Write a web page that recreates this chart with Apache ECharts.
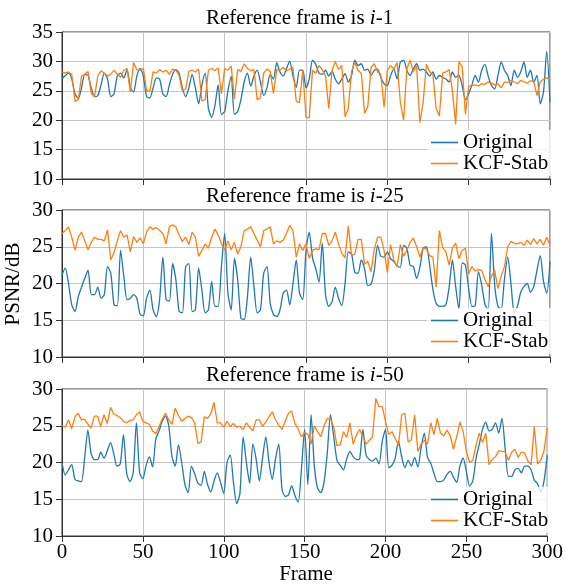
<!DOCTYPE html>
<html><head><meta charset="utf-8">
<script src="https://cdn.jsdelivr.net/npm/echarts@6/dist/echarts.min.js"></script>
<style>html,body{margin:0;padding:0;background:#fff}#c{width:566px;height:586px}</style>
</head><body><div id="c"></div><script>
// x positions: sampled every FRAME_STEP frames, starting at frame 0
const FRAME_STEP = 2;
const seriesNames = ['Original', 'KCF-Stab'];
const panelRefs = ['1', '25', '50'];
const xTickLabels = [0, 50, 100, 150, 200, 250, 300];
const yRanges = [[10, 35], [10, 30], [10, 30]];

// Panel 1: reference frame i-1
const p1Original = [27,27.6,28,27,24.5,23.7,25.5,27.8,27.6,25.5,24,24.2,26,28,27,24,24.5,27.5,28,27.2,28.6,25.5,24.8,27.5,28.8,27.5,24,23.8,25.5,27.2,27,24.5,24,26,27.8,28.6,28,25.5,
24,25.5,27.8,25.5,22.8,26,28,22,20.5,22.5,26,21,21.5,25,27.5,21,21.5,23.5,26.5,28,25.8,27.5,28.5,26.5,24.2,25.5,27.8,27,29.8,28.2,27.5,28.8,30,27.5,25.6,28.5,28.5,
25.5,27,30.2,29.5,28,27.8,28.5,27.5,28.3,27,26.2,27,27.9,26.5,27.6,30.2,29.3,29.6,28.5,28.7,27.6,28.5,28.7,27.3,26.2,25.9,27.6,28.7,27,29.9,30.2,28.5,27.6,28.7,29.6,28.5,28.7,28.2,
27.5,28.2,27,27.6,27.3,27,26.5,28.2,27.3,27.6,25.9,23.5,24.5,26,27.6,26.5,28.5,29.5,27.5,25.9,25.3,27.6,29.9,28.5,27.6,25.9,28.5,27.3,28.2,29.9,27.3,28.5,26.5,27.6,22.8,24.8,31.7,23];
const p1Stab = [28.2,28,28.2,27.8,23.2,23.5,27.5,27.8,28.3,24.5,24,27.5,28.4,28,27.5,27.8,28.5,27.8,27.3,28.5,28.8,24.8,29.8,28.6,28.5,28.8,25,25,28.2,28,28.6,28.2,28.5,27.8,28.7,28.5,27.6,25,
25.3,28.3,28.5,28.2,28.7,23.3,23.5,28.5,28.8,28.4,28.9,24.5,28.8,28.5,29.2,23.6,28.6,28.3,29.6,28.8,28.4,28.6,23.5,23.8,28,28.7,28.3,24.5,28.6,28.5,29,28.4,28.7,29,23.2,23,28.5,
20.5,20.4,28.5,28,29.3,28.6,27.5,22,28.5,30,28.6,29.3,20.6,22,28.3,29.8,28.5,28,21.2,22.3,29,29.6,28.2,27.8,22.2,28.5,29.3,28.7,29.8,23,20,28.8,30.2,28.3,29.2,19.6,23,29.5,
28.3,27.8,22,20.7,28,28.2,28.6,25,19.3,29.9,29.2,21,25.8,25.9,26,25.8,26.2,26.1,26.5,26.3,26,26.2,25.5,26.5,26.4,26.8,26.5,26.2,26.8,26.5,26.3,26.7,26.6,24.2,26.5,27,27.2,26.8];

// Panel 2: reference frame i-25
const p2Original = [21.2,22.1,20,17.1,16.2,18.2,19.5,20.7,21.8,18.5,18.5,19.5,18,18.5,22.3,21.4,17.1,17,24.5,21,17.8,18,18.5,18,15.8,15.6,18,19.1,16.4,15.5,
17.8,23.6,17.8,17.6,22.7,20.5,16.2,16,22.3,22.7,16.2,16.4,22.1,19.1,16,16.4,20.3,16.9,16.9,22.3,26.8,18.7,16.4,23.4,20.5,15.3,15.1,18.2,23.6,19.6,
16,16.4,21.4,22.3,17.3,15.8,15.5,16.4,18.7,19.1,17.1,20,23.2,18.7,17.8,24.5,27,
23.5,22,20.2,25.5,18.5,16.9,17.5,19.5,18,17,20,24.3,24,21.5,21.4,23.2,22,19.7,19.9,21.8,25.2,23.7,23.6,24.3,23.4,23,22.4,22.2,25.2,24.8,
22.5,22.3,20.7,22.2,24.8,25,22.5,19.2,17.3,16.9,16.9,17.1,19.5,23.2,19.6,16.5,22.8,22.5,19.3,16.9,17,21.6,19.8,17.2,16.4,26.8,19.8,16.9,16.5,20.6,
23.6,20,16,16.9,18.8,19.6,20,18.8,19.6,21.8,23.8,20.3,18.7,23];
const p2Stab = [26.8,27.2,27.7,26.3,24.5,26.3,27,25.8,24.6,25.6,26.3,26,26,25.8,27.3,23.2,24.2,25.8,27.2,26.3,26.6,24.3,26.4,25.6,26.2,25.4,27,27.7,27.4,27.6,
27.2,26.8,25.4,27.7,28,27.7,26.6,25.7,26.3,25.3,27,26.3,23.7,24.5,25.4,24.8,26.3,27.4,26.6,25.4,24.6,25.8,24.6,25.6,24,25,27.2,27.4,27.7,26.8,
25.9,25,27.2,27.4,27.7,25.4,25.8,25.6,25.9,26.8,27.9,27.2,23.6,25.4,24.5,25.4,23.4,
24.5,24.7,24.6,26.8,26.8,25.2,25.8,27,25.4,24.1,23.5,27.8,23.8,24,26,26,22.6,23,21.6,24.7,26.3,26.3,24.5,21.5,25.3,23.2,22.3,25.3,23.7,24.5,
25.6,26.2,25,23.6,24.8,24.7,23.8,23.6,19.5,27.2,24.9,24.3,22.5,24.8,25.5,23.4,24.5,24.8,21.3,22.3,21.7,21.9,21.8,20.5,19.6,21,21.8,19.3,21,22.3,
25,25.7,25.5,25.4,25.6,25.2,25.9,25.3,26.1,25.4,26,25.2,26.3,25.2];

// Panel 3: reference frame i-50
const p3Original = [20,18.3,19,19.7,17.7,17.5,17.4,20.6,24.4,21.2,20.4,20.4,21.4,20.6,21.6,22.7,21.2,19.5,19.8,23.8,18.5,17.4,18.6,25.4,18.6,17.8,19.6,20.8,19.4,23.2,
24.3,25.6,26.3,25,20.8,19.5,22.4,20,17,15.9,19.5,18.5,17.2,16.9,18.8,17,16,17.5,18.6,17.3,15.8,20,21,17.3,14.4,15.8,23.5,20,17.2,22.5,
20.5,17.5,20.6,23.5,20,17.7,20.5,22.5,16.4,15.4,15.6,16.8,15.5,14.6,19,24.5,17,
26.5,19.5,16.5,15.9,17.3,21.3,26.5,23.5,20.3,19.6,19,20.5,21.5,20.8,20.4,20.5,24.5,21,20.4,20.2,20.6,19.8,22.9,24.5,19.3,19.6,20.6,22.9,20.8,19.3,
20.3,19.5,20.7,19.4,22,24,20.7,19.9,18.5,17.4,17.4,17.6,18.4,18.8,18,17.3,19.5,20.6,18.8,16.8,17.5,20.6,22.5,24.5,25.5,24.3,24.5,25.4,24,26,
21.8,18.1,18.1,19,19.2,18.6,19.5,19.5,19,17.6,17.1,16,17.5,21];
const p3Stab = [25,24.8,25.8,24.6,26.2,26.7,25.8,25.9,25.2,24.7,26.3,26.3,24.9,26.5,25.3,27.5,26.6,26.4,26.1,25.6,25.4,25.7,25.8,26.5,26.9,25.6,25.4,25.2,24.3,23.9,
24.9,25.9,26.7,25.8,25.2,27.4,26.4,25.6,26,26.3,26.1,25.4,22.6,22.8,26.2,26,26.6,28.2,25.4,25.4,24.8,25.6,24.9,25.3,24.8,24.9,24.5,25.4,24.8,24.3,
25.8,25.8,24.9,25.5,26.2,26.9,25.8,25.1,24.5,25.6,26.7,27,25.3,24.6,23.5,24.1,23.8,
22.5,25,24.2,23.5,25,26,25.9,24.8,22.3,22.4,24.2,23.4,25.4,22.5,23.7,24.5,23.5,22.5,23,23.5,28.7,27.6,27.6,25.6,23.8,24.2,23.3,22.3,26.5,26.7,
22.8,23.1,26.5,21.5,22.5,23,22.5,25.4,23.8,26,24,23.6,24.4,23.7,21.8,23.5,25.5,24.2,21.5,20,20.3,22.4,24,22.7,24,19.7,20.4,20.8,21.6,21.5,
21.4,20.3,21.4,21.8,20.7,21.4,21.3,20.2,19.7,24.9,19.8,20.3,21.6,24.7];

const panels = [[p1Original, p1Stab], [p2Original, p2Stab], [p3Original, p3Stab]];
const colors = ['#1f77b4', '#ff7f0e'];

const FONT = '"Liberation Serif", "Times New Roman", serif';
const gridTops = [32, 210, 389];
const gridH = 147;
const gridLeft = 62, gridW = 488;

const grids = [], xAxes = [], yAxes = [], series = [], titles = [], legends = [];
panels.forEach((pair, i) => {
  grids.push({left: gridLeft, top: gridTops[i], width: gridW, height: gridH, show: true, borderColor: '#333', borderWidth: 1, backgroundColor: 'transparent'});
  xAxes.push({
    type: 'value', gridIndex: i, min: xTickLabels[0], max: xTickLabels[xTickLabels.length - 1], interval: 50,
    axisLine: {show: true, onZero: false, lineStyle: {color: '#333', width: 1}},
    axisTick: {show: true, inside: false, length: 6, lineStyle: {color: '#333'}},
    axisLabel: {show: i === 2, margin: 6, color: '#000', fontFamily: FONT, fontSize: 21},
    splitLine: {show: true, lineStyle: {color: '#c4c4c4', width: 1}}
  });
  yAxes.push({
    type: 'value', gridIndex: i, min: yRanges[i][0], max: yRanges[i][1], interval: 5,
    axisLine: {show: true, onZero: false, lineStyle: {color: '#333', width: 1}},
    axisTick: {show: true, inside: false, length: 6, lineStyle: {color: '#333'}},
    axisLabel: {show: true, margin: 9, color: '#000', fontFamily: FONT, fontSize: 21},
    splitLine: {show: true, lineStyle: {color: '#c4c4c4', width: 1}}
  });
  pair.forEach((vals, s) => {
    series.push({
      name: seriesNames[s], type: 'line', xAxisIndex: i, yAxisIndex: i,
      data: vals.map((v, k) => [k * FRAME_STEP, v]),
      symbol: 'none', showSymbol: false, smooth: s === 0 ? 0.25 : false,
      lineStyle: {color: colors[s], width: 1.3}, itemStyle: {color: colors[s]},
      z: 2 + s
    });
  });
  titles.push({
    text: '{n|Reference frame is }{i|i}{n|-' + panelRefs[i] + '}',
    left: 201, top: gridTops[i] - 29,
    textStyle: {fontWeight: 'normal', rich: {
      n: {fontFamily: FONT, fontSize: 21, fontWeight: 'normal', color: '#000'},
      i: {fontFamily: FONT, fontSize: 21, fontWeight: 'normal', fontStyle: 'italic', color: '#000'}
    }}
  });
  legends.push({
    data: seriesNames, orient: 'vertical', left: 427, top: gridTops[i] + gridH - 49,
    icon: 'rect', itemWidth: 27, itemHeight: 1.6, itemGap: 0,
    padding: [2, 4, 2, 4], backgroundColor: 'rgba(255,255,255,0.8)',
    textStyle: {fontFamily: FONT, fontSize: 21, color: '#000', lineHeight: 18},
    selectedMode: false
  });
});

const chart = echarts.init(document.getElementById('c'), null, {renderer: 'canvas'});
chart.setOption({
  animation: false,
  backgroundColor: '#fff',
  title: titles,
  legend: legends,
  grid: grids,
  xAxis: xAxes,
  yAxis: yAxes,
  series: series,
  graphic: [
    {type: 'text', x: 13, y: 284, rotation: Math.PI / 2,
     style: {text: 'PSNR/dB', fontFamily: FONT, fontSize: 21, fill: '#000', textAlign: 'center', textVerticalAlign: 'middle'}},
    {type: 'text', x: gridLeft + gridW / 2, y: 574,
     style: {text: 'Frame', fontFamily: FONT, fontSize: 21, fill: '#000', textAlign: 'center', textVerticalAlign: 'middle'}}
  ]
});
</script></body></html>
